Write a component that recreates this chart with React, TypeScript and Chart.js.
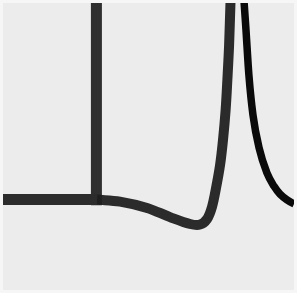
import React, { useEffect, useRef } from "react";
import { Chart, registerables } from "chart.js";

Chart.register(...registerables);

// Baseline segment
const baseX = [0, 3.23];
const baseY = [3.15, 3.15];

// Vertical marker
const markX = [3.21, 3.21];
const markY = [2.95, 10.5];

// Left curve (dip then steep rise)
const leftX = [3.23, 4.02, 4.95, 5.74, 6.43, 6.77, 7.01, 7.18, 7.32, 7.46, 7.56, 7.65, 7.71, 7.77, 7.82, 7.84];
const leftY = [3.15, 3.08, 2.86, 2.54, 2.3, 2.28, 2.47, 2.89, 3.55, 4.36, 5.23, 6.27, 7.32, 8.54, 10.1, 10.45];

// Right curve (decay)
const rightX = [8.25, 8.28, 8.35, 8.45, 8.59, 8.8, 9.07, 9.31, 9.52, 9.76, 10.0, 10.21];
const rightY = [10.45, 10.1, 9.06, 7.49, 6.1, 4.95, 4.08, 3.62, 3.34, 3.14, 3.0, 2.93];

const pts = (xs: number[], ys: number[]) => xs.map((x, i) => ({ x, y: ys[i] }));

export default function App() {
  const ref = useRef<HTMLCanvasElement | null>(null);
  useEffect(() => {
    document.body.style.margin = "0";
    const bg = {
      id: "bg",
      beforeDraw(chart: any) {
        const { ctx, chartArea, width, height } = chart;
        ctx.save();
        ctx.fillStyle = "#f6f6f6";
        ctx.fillRect(0, 0, width, height);
        ctx.fillStyle = "#ececec";
        ctx.fillRect(chartArea.left, chartArea.top, chartArea.right - chartArea.left, chartArea.bottom - chartArea.top);
        ctx.restore();
      },
    };
    const chart = new Chart(ref.current!, {
      type: "line",
      data: {
        datasets: [
          { data: pts(baseX, baseY), borderColor: "#2c2c2c", borderWidth: 11, pointRadius: 0, tension: 0, clip: 0, borderCapStyle: "butt" },
          { data: pts(markX, markY), borderColor: "rgba(30,30,30,0.92)", borderWidth: 11, pointRadius: 0, tension: 0, clip: 0, borderCapStyle: "butt" },
          { data: pts(leftX, leftY), borderColor: "#2b2b2b", borderWidth: 10, pointRadius: 0, tension: 0.35, clip: 0 },
          { data: pts(rightX, rightY), borderColor: "#0a0a0a", borderWidth: 7.5, pointRadius: 0, cubicInterpolationMode: "monotone", clip: 0 },
        ] as any,
      },
      options: {
        animation: false,
        responsive: true,
        maintainAspectRatio: false,
        layout: { padding: { left: 3, top: 3, right: 3, bottom: 3 } },
        scales: {
          x: { type: "linear", min: 0, max: 10, display: false },
          y: { type: "linear", min: 0, max: 10, display: false },
        },
        plugins: { legend: { display: false }, tooltip: { enabled: false } },
      },
      plugins: [bg],
    });
    return () => chart.destroy();
  }, []);
  return (
    <div style={{ width: 297, height: 293, position: "relative" }}>
      <canvas ref={ref} />
    </div>
  );
}
